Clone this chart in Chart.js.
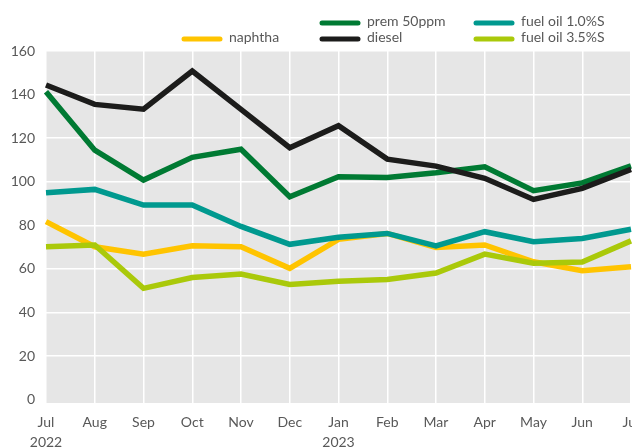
<!DOCTYPE html>
<html>
<head>
<meta charset="utf-8">
<script src="https://cdn.jsdelivr.net/npm/chart.js@4/dist/chart.umd.min.js"></script>
<style>
  html, body { margin: 0; padding: 0; background: #fff; overflow: hidden; }
  #wrap { width: 632px; height: 448px; }
</style>
</head>
<body>
<div id="wrap"><canvas id="chart" width="632" height="448"></canvas></div>
<script>
// month labels, years on a second line
const months = [['Jul', '2022'], 'Aug', 'Sep', 'Oct', 'Nov', 'Dec', ['Jan', '2023'], 'Feb', 'Mar', 'Apr', 'May', 'Jun', 'Jul'];
const yTicks = [0, 20, 40, 60, 80, 100, 120, 140, 160];

const naphtha = [81.7, 70.2, 66.8, 70.6, 70.2, 60.3, 73.6, 76.3, 69.9, 71.0, 63.3, 59.2, 61.0];
const prem50ppm = [141.3, 114.5, 100.8, 111.2, 114.9, 93.1, 102.3, 102.0, 104.1, 106.9, 95.9, 99.5, 107.3];
const diesel = [144.4, 135.5, 133.3, 150.8, 133.2, 115.6, 125.7, 110.4, 107.2, 101.6, 91.9, 97.0, 105.7];
const fuelOil10 = [95.0, 96.5, 89.3, 89.3, 79.5, 71.3, 74.5, 76.3, 70.6, 77.1, 72.5, 74.0, 78.2];
const fuelOil35 = [70.2, 71.0, 51.1, 56.1, 57.7, 52.9, 54.4, 55.2, 58.1, 66.8, 62.6, 63.2, 72.9];

const FONT = 'Lato, "Noto Sans", sans-serif';
const TEXT = '#585858';

// legend sits in a small grid: [column, row]
const legendSlots = [[0, 1], [1, 0], [1, 1], [2, 0], [2, 1]];
const legendCols = [182, 320, 474];
const legendRows = [23, 39];

const plotBackground = {
    id: 'plotBackground',
    beforeDraw(chart) {
        const { ctx, chartArea: a } = chart;
        ctx.save();
        ctx.fillStyle = '#e6e6e6';
        ctx.fillRect(a.left, a.top, a.right - a.left, a.bottom - a.top);
        ctx.restore();
    }
};

const gridLegend = {
    id: 'gridLegend',
    afterDraw(chart) {
        const ctx = chart.ctx;
        ctx.save();
        chart.data.datasets.forEach((ds, i) => {
            const [c, r] = legendSlots[i];
            const x = legendCols[c];
            const y = legendRows[r];
            ctx.strokeStyle = ds.borderColor;
            ctx.lineWidth = 5;
            ctx.lineCap = 'round';
            ctx.beginPath();
            ctx.moveTo(x + 2, y);
            ctx.lineTo(x + 38, y);
            ctx.stroke();
            ctx.fillStyle = TEXT;
            ctx.font = '14px ' + FONT;
            ctx.textBaseline = 'middle';
            ctx.fillText(ds.label, x + 47, y - 2);
        });
        ctx.restore();
    }
};

function series(label, data, color, order) {
    return {
        label: label,
        data: data,
        borderColor: color,
        backgroundColor: color,
        borderWidth: 5.5,
        pointRadius: 0,
        tension: 0,
        order: order
    };
}

new Chart(document.getElementById('chart'), {
    type: 'line',
    data: {
        labels: months,
        datasets: [
            series('naphtha', naphtha, '#ffc400', 5),
            series('prem 50ppm', prem50ppm, '#007a33', 4),
            series('diesel', diesel, '#1c1c1b', 3),
            series('fuel oil 1.0%S', fuelOil10, '#00998f', 2),
            series('fuel oil 3.5%S', fuelOil35, '#aac90a', 1)
        ]
    },
    options: {
        responsive: false,
        animation: false,
        layout: { padding: { top: 51, right: 1, left: 0, bottom: 0 } },
        plugins: {
            legend: { display: false },
            tooltip: { enabled: false }
        },
        scales: {
            x: {
                offset: false,
                border: { display: false },
                grid: { color: '#ffffff', lineWidth: 1.5, drawTicks: false },
                ticks: {
                    autoSkip: false,
                    maxRotation: 0,
                    padding: 9,
                    color: TEXT,
                    font: { family: FONT, size: 14, lineHeight: 1.43 }
                },
                afterFit(scale) {
                    scale.height = 45;
                    scale.paddingLeft = 0;
                    scale.paddingRight = 0;
                }
            },
            y: {
                min: -1.5,
                max: 160,
                border: { display: false },
                grid: {
                    color: ctx => (ctx.tick && ctx.tick.value === 0 ? 'rgba(0,0,0,0)' : '#ffffff'),
                    lineWidth: 1.5,
                    drawTicks: false
                },
                ticks: {
                    padding: 11,
                    color: TEXT,
                    font: { family: FONT, size: 14 }
                },
                afterBuildTicks(scale) {
                    scale.ticks = yTicks.map(v => ({ value: v }));
                },
                afterFit(scale) {
                    scale.width = 46;
                }
            }
        }
    },
    plugins: [plotBackground, gridLegend]
});
</script>
</body>
</html>
